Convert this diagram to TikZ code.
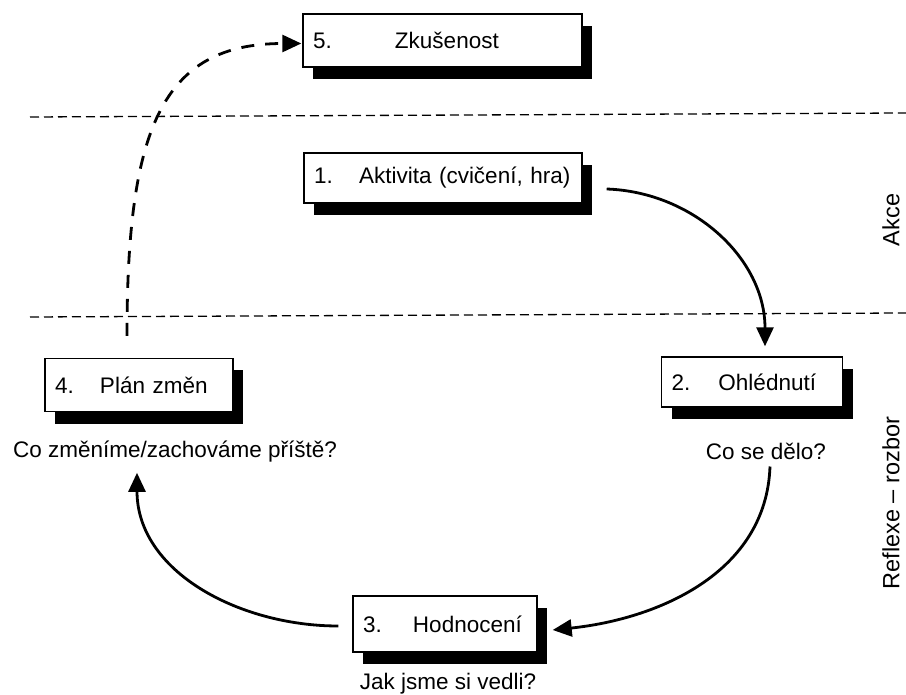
\documentclass[tikz,border=0pt]{standalone}
\usepackage{fontspec}
\setmainfont{Liberation Sans}
\usetikzlibrary{arrows.meta,shadows}
\newcommand{\diagfont}{\fontsize{22.5}{27}\selectfont}
\newcommand{\stagetxt}[3][46pt]{\makebox[#1][l]{#2}#3}
\tikzset{
  stage/.style={draw, line width=1.4pt, fill=white, align=left, inner xsep=10pt,
    minimum height=53pt, font=\diagfont,
    drop shadow={shadow xshift=10pt, shadow yshift=-12pt, fill=black, opacity=1}},
  question/.style={font=\diagfont, inner sep=1pt},
  side/.style={font=\fontsize{23.5}{28}\selectfont, rotate=90, inner sep=1pt},
  level/.style={line width=1.3pt, dash pattern=on 9pt off 5pt},
  flow/.style={-{Triangle[length=19pt,width=17pt]}, line width=2.8pt},
  plan/.style={flow, dash pattern=on 13pt off 11pt},
}
\begin{document}
\begin{tikzpicture}[x=1pt,y=-1pt]
  \useasboundingbox (0,0) rectangle (906,695);
  % levels
  \draw[level] (30,117) -- (906,113);
  \draw[level] (30,317) -- (906,313);
  \node[side] (akce) at (891,220) {Akce};
  \node[side] (reflexe) at (891,503) {Reflexe -- rozbor};
  % stages
  \node[stage, text width=259pt] (zkus) at (442.5,40.5) {\stagetxt[82pt]{5.}{Zkušenost}};
  \node[stage, text width=258pt, minimum height=50pt] (akt) at (443,178) {\stagetxt[45pt]{1.}{Aktivita (cvičení, hra)}};
  \node[stage, text width=168pt] (plan) at (139,385) {\stagetxt[45pt]{4.}{Plán změn}};
  \node[stage, text width=161pt, minimum height=50pt] (ohl) at (752,382) {\stagetxt[47pt]{2.}{Ohlédnutí}};
  \node[stage, text width=164pt, minimum height=56pt] (hod) at (445,624) {\stagetxt[50pt]{3.}{Hodnocení}};
  % questions
  \node[question] (q4) at (175,452) {Co změníme/zachováme příště?};
  \node[question] (q2) at (766,451) {Co se dělo?};
  \node[question] (q3) at (448,684) {Jak jsme si vedli?};
  % cycle
  \draw[flow] ([xshift=24pt,yshift=-11pt]akt.east) to[out=-2,in=90] ([xshift=13pt,yshift=10pt]ohl.north);
  \draw[flow] ([xshift=4pt,yshift=-6pt]q2.south) to[out=-92,in=6] ([xshift=15pt,yshift=-6pt]hod.east);
  \draw[flow] ([xshift=-14pt,yshift=-2pt]hod.west) to[out=180,in=-90] ([xshift=-38pt,yshift=-9pt]q4.south);
  \draw[plan] ([xshift=-12pt,yshift=22pt]plan.north) .. controls +(0,-206) and +(-140,0) .. ([xshift=-1pt,yshift=-3pt]zkus.west);
\end{tikzpicture}
\end{document}
